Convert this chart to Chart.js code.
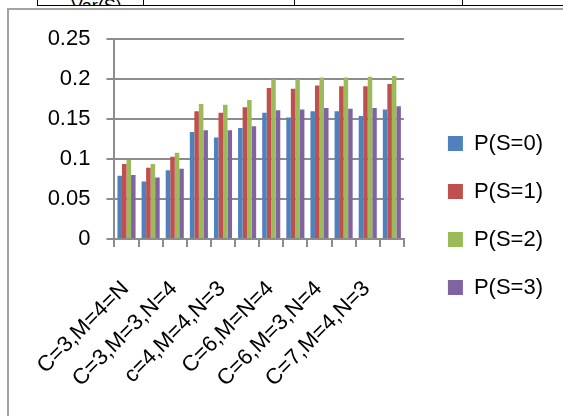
<!DOCTYPE html>
<html lang="en">
<head>
    <meta charset="UTF-8">
    <title>P(S) chart</title>
    <script src="https://cdn.jsdelivr.net/npm/chart.js"></script>
    <style>
        body { margin: 0; background: #fff; width: 563px; height: 416px; overflow: hidden; position: relative; font-family: "Liberation Sans", Arial, sans-serif; }
        .tabela { position: absolute; left: 37px; top: -16px; right: -2px; height: 21px; border: 1px solid #000; border-top: none; overflow: hidden; }
        .cel { position: absolute; top: 0; bottom: 0; border-left: 1px solid #000; }
        .cel span { position: absolute; bottom: -12px; left: 34px; font-size: 18px; color: #000; }
        .moldura { position: absolute; left: 7px; top: 8px; width: 570px; height: 420px; border: 2px solid #a3a3a3; }
        .grafico { position: absolute; left: 9px; top: 10px; width: 554px; height: 406px; }
    </style>
</head>
<body>
    <div class="tabela">
        <div class="cel" style="left:-1px; width:106px; border-left:none"><span>Var(S)</span></div>
        <div class="cel" style="left:105px; width:151px"></div>
        <div class="cel" style="left:256px; width:168px"></div>
        <div class="cel" style="left:424px; width:120px"></div>
    </div>
    <div class="moldura"></div>
    <div class="grafico">
        <canvas id="myChart" width="554" height="406"></canvas>
    </div>

<script>
    // categorias (so as impares aparecem no eixo)
    const categorias = ['C=3,M=4=N', '', 'C=3,M=3,N=4', '', 'c=4,M=4,N=3', '', 'C=6,M=N=4', '', 'C=6,M=3,N=4', '', 'C=7,M=4,N=3', ''];

    const ps0 = [0.079, 0.072, 0.086, 0.134, 0.127, 0.139, 0.158, 0.152, 0.160, 0.160, 0.154, 0.162];
    const ps1 = [0.094, 0.089, 0.103, 0.160, 0.158, 0.165, 0.189, 0.188, 0.192, 0.191, 0.191, 0.194];
    const ps2 = [0.099, 0.094, 0.108, 0.169, 0.168, 0.174, 0.200, 0.200, 0.202, 0.202, 0.203, 0.204];
    const ps3 = [0.080, 0.077, 0.088, 0.136, 0.136, 0.141, 0.161, 0.162, 0.164, 0.163, 0.164, 0.166];

    const yTicks = ['0', '0.05', '0.1', '0.15', '0.2', '0.25'];

    const fonte = { family: '"Liberation Sans", Arial, sans-serif', size: 22 };
    const cinza = '#8c8c8c';

    Chart.defaults.color = '#000';

    const config = {
        type: 'bar',
        data: {
            labels: categorias,
            datasets: [
                { label: 'P(S=0)', data: ps0, backgroundColor: '#4f81bd' },
                { label: 'P(S=1)', data: ps1, backgroundColor: '#c0504d' },
                { label: 'P(S=2)', data: ps2, backgroundColor: '#9bbb59' },
                { label: 'P(S=3)', data: ps3, backgroundColor: '#8064a2' },
            ],
        },
        options: {
            responsive: false,
            animation: false,
            datasets: {
                bar: { categoryPercentage: 0.75, barPercentage: 1.0 }
            },
            layout: {
                padding: { top: 27, bottom: 22, left: 0, right: 10 }
            },
            plugins: {
                tooltip: { enabled: false },
                legend: {
                    position: 'right',
                    maxWidth: 200,
                    labels: {
                        boxWidth: 15,
                        boxHeight: 15,
                        padding: 26,
                        font: fonte,
                        color: '#000',
                    },
                },
            },
            scales: {
                x: {
                    grid: { drawOnChartArea: false, color: cinza, lineWidth: 2, tickLength: 8 },
                    border: { color: cinza, width: 2 },
                    ticks: {
                        autoSkip: false,
                        minRotation: 45,
                        maxRotation: 45,
                        padding: 29,
                        labelOffset: -1,
                        font: fonte,
                        color: '#000',
                    },
                    afterFit: function (s) { s.height = 155; },
                },
                y: {
                    min: 0,
                    max: 0.25,
                    grid: { color: cinza, lineWidth: 2, tickLength: 8 },
                    border: { color: cinza, width: 2 },
                    ticks: {
                        stepSize: 0.05,
                        padding: 16,
                        font: fonte,
                        color: '#000',
                        callback: function (v, i) { return yTicks[i]; },
                    },
                    afterFit: function (s) { s.width = 101; },
                },
                // espaco vazio entre a area do grafico e a legenda
                espaco: {
                    type: 'linear',
                    position: 'right',
                    grid: { display: false },
                    border: { display: false },
                    ticks: { display: false },
                    afterFit: function (s) { s.width = 18; },
                },
            },
        },
    };

    const chartInstance = new Chart(document.getElementById('myChart'), config);
</script>
</body>
</html>
